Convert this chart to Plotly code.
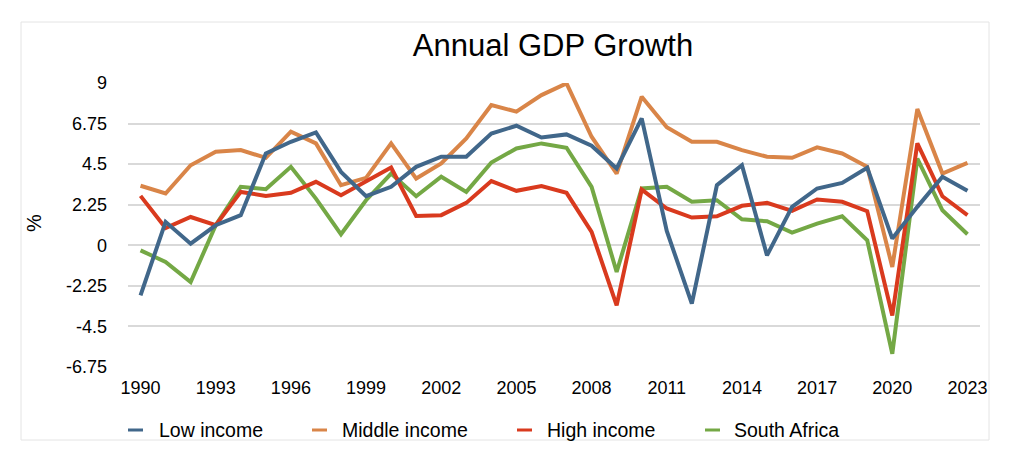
import plotly.graph_objects as go

years = list(range(1990, 2024))

low_income = [-2.78, 1.30, 0.09, 1.11, 1.67, 5.09, 5.74, 6.26, 4.07, 2.72, 3.24,
              4.35, 4.91, 4.91, 6.20, 6.63, 5.98, 6.15, 5.52, 4.26, 7.04,
              0.80, -3.24, 3.33, 4.44, -0.56, 2.13, 3.15, 3.46, 4.30, 0.37,
              2.13, 3.80, 3.02]
middle_income = [3.30, 2.87, 4.44, 5.19, 5.28, 4.85, 6.30, 5.65, 3.33, 3.74, 5.65,
                 3.70, 4.54, 5.93, 7.78, 7.41, 8.33, 8.98, 6.02, 3.98, 8.24,
                 6.55, 5.74, 5.74, 5.28, 4.91, 4.85, 5.43, 5.09, 4.35, -1.20,
                 7.56, 3.98, 4.57]
high_income = [2.74, 0.96, 1.57, 1.11, 2.96, 2.74, 2.91, 3.52, 2.78, 3.52, 4.31,
               1.63, 1.67, 2.35, 3.56, 3.02, 3.28, 2.91, 0.74, -3.33, 3.09,
               2.04, 1.54, 1.61, 2.19, 2.35, 1.91, 2.54, 2.41, 1.89, -3.89,
               5.65, 2.72, 1.67]
south_africa = [-0.28, -0.93, -2.04, 1.11, 3.24, 3.11, 4.35, 2.59, 0.61, 2.50, 3.98,
                2.72, 3.80, 2.96, 4.59, 5.37, 5.65, 5.41, 3.24, -1.48, 3.15,
                3.24, 2.41, 2.50, 1.44, 1.33, 0.70, 1.20, 1.61, 0.28, -6.02,
                4.81, 1.94, 0.61]

y_ticks = [-6.75, -4.5, -2.25, 0, 2.25, 4.5, 6.75, 9]
y_tick_text = ["-6.75", "-4.5", "-2.25", "0", "2.25", "4.5", "6.75", "9"]
x_ticks = [1990, 1993, 1996, 1999, 2002, 2005, 2008, 2011, 2014, 2017, 2020, 2023]

legend_names = ["Low income", "Middle income", "High income", "South Africa"]

colors = {"Low income": "#41678a", "Middle income": "#d98548",
          "High income": "#d93a1e", "South Africa": "#74a845"}
data = {"Low income": low_income, "Middle income": middle_income,
        "High income": high_income, "South Africa": south_africa}
draw_order = ["Middle income", "South Africa", "High income", "Low income"]

fig = go.Figure()
for name in draw_order:
    fig.add_trace(go.Scatter(
        x=years, y=data[name], mode="lines", name=name, showlegend=False,
        line=dict(color=colors[name], width=4),
    ))

W, H = 1024, 471
L, R, T, B = 120, 52, 75, 112
pw, ph = W - L - R, H - T - B


def px(x, y):
    return (x - L) / pw, (H - B - y) / ph


FONT = "Liberation Sans, Arial, Helvetica, sans-serif"

shapes = []
annotations = []

# outer light border
bx0, by0 = px(13, 432)
bx1, by1 = px(981, 14)
shapes.append(dict(type="rect", xref="paper", yref="paper", x0=bx0, x1=bx1,
                   y0=by0, y1=by1, line=dict(color="#e4e4e4", width=1),
                   layer="below"))

# custom legend
sym_x = [120, 304, 509, 697]
txt_x = [149, 332, 537, 724]
leg_y = 422
for name, sx, tx in zip(legend_names, sym_x, txt_x):
    a0, yy = px(sx, leg_y)
    a1, _ = px(sx + 15, leg_y)
    shapes.append(dict(type="line", xref="paper", yref="paper", x0=a0, x1=a1,
                       y0=yy, y1=yy, line=dict(color=colors[name], width=3)))
    t0, _ = px(tx, leg_y)
    annotations.append(dict(text=name, xref="paper", yref="paper", x=t0, y=yy,
                            xanchor="left", yanchor="middle", showarrow=False,
                            font=dict(family=FONT, size=19.5, color="black")))

# y axis title
ax_, ay_ = px(26, 215)
annotations.append(dict(text="%", xref="paper", yref="paper", x=ax_, y=ay_,
                        xanchor="center", yanchor="middle", showarrow=False,
                        textangle=-90, font=dict(family=FONT, size=20, color="black")))

fig.update_layout(
    width=W, height=H,
    margin=dict(l=L, r=R, t=T, b=B, autoexpand=False),
    paper_bgcolor="white", plot_bgcolor="white",
    font=dict(family=FONT, size=18, color="black"),
    title=dict(text="Annual GDP Growth", x=545 / W, xanchor="center",
               y=1 - 37 / H, yanchor="middle", font=dict(size=31, color="black")),
    xaxis=dict(range=[1989.5, 2023.5], tickmode="array", tickvals=x_ticks,
               showgrid=False, showline=False, zeroline=False, ticks="",
               tickfont=dict(size=18), ticklabelstandoff=8),
    yaxis=dict(range=[-6.75, 9], tickmode="array", tickvals=y_ticks,
               ticktext=y_tick_text, showgrid=True, gridcolor="#d9d9d9",
               gridwidth=1.5, zeroline=False, showline=False, ticks="",
               tickfont=dict(size=18), ticklabelstandoff=20),
    shapes=shapes,
    annotations=annotations,
    showlegend=False,
)

fig.write_html("out.html")
